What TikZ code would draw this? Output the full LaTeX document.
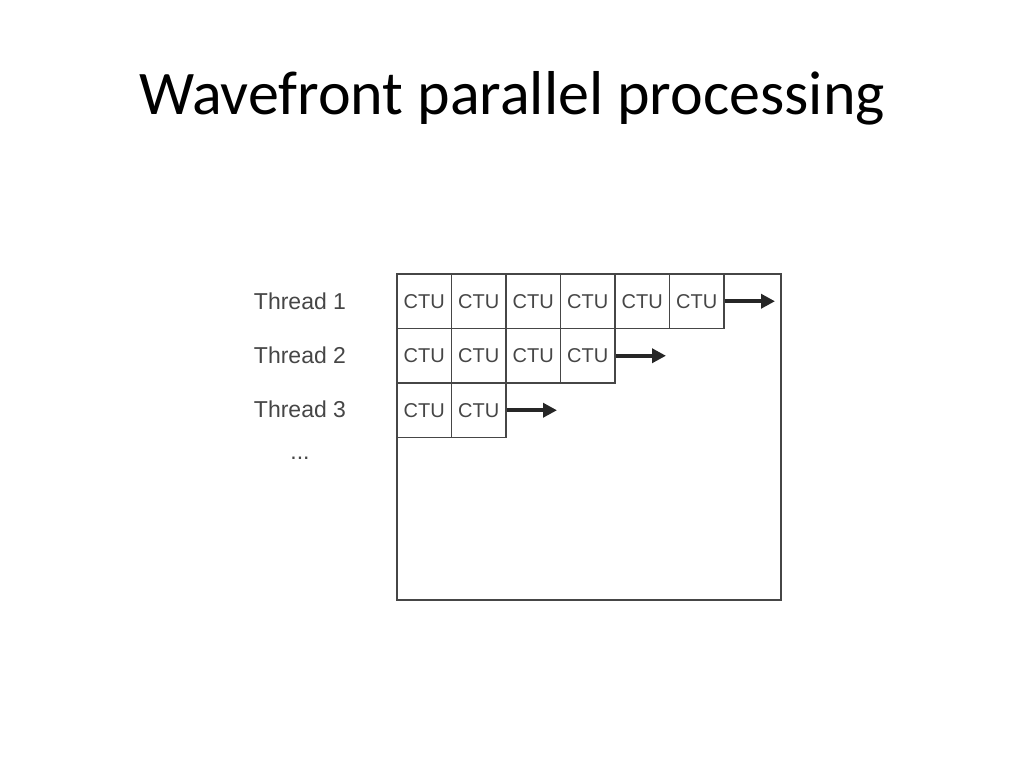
\documentclass[tikz,border=0pt]{standalone}
\usepackage{fontspec}
\setmainfont{Carlito}
\newfontfamily\labelfont{Liberation Sans}
\usetikzlibrary{positioning,arrows.meta}

\begin{document}
\begin{tikzpicture}[x=1pt,y=-1pt]
\definecolor{ctu_gray}{RGB}{70,70,70}
\tikzset{
  ctubox/.style={draw=ctu_gray,line width=1.2pt,minimum width=54.5pt,minimum height=54.5pt,
    inner sep=0pt,font=\labelfont\fontsize{20}{20}\selectfont,text=ctu_gray},
  thread/.style={font=\labelfont\fontsize{23}{23}\selectfont,text=ctu_gray},
  wave/.style={line width=4pt,-{Triangle[length=14pt,width=14pt]},draw=black!85}
}
\useasboundingbox (0,0) rectangle (1024,768);

\node[font=\fontsize{62}{62}\selectfont] (title) at (512,98) {Wavefront parallel processing};

% frame
\draw[ctu_gray,line width=1.2pt] (397,274) rectangle (781,600);

% thread labels
\node[thread] (t1) at (300,301) {Thread 1};
\node[thread] (t2) at (300,355) {Thread 2};
\node[thread] (t3) at (300,409) {Thread 3};
\node[thread] (tdots) at (300,458) {...};

% CTU rows
\foreach \row/\n in {1/6,2/4,3/2}{
  \foreach \col in {1,...,\n}{
    \node[ctubox] (c\row\col) at ({397+54.5*(\col-0.5)},{274+54.5*(\row-0.5)}) {CTU};
  }
  \coordinate (e\row) at ({397+54.5*\n+51},{274+54.5*(\row-0.5)});
}
\draw[wave] (c16.east) -- (e1);
\draw[wave] (c24.east) -- (e2);
\draw[wave] (c32.east) -- (e3);
\end{tikzpicture}
\end{document}
